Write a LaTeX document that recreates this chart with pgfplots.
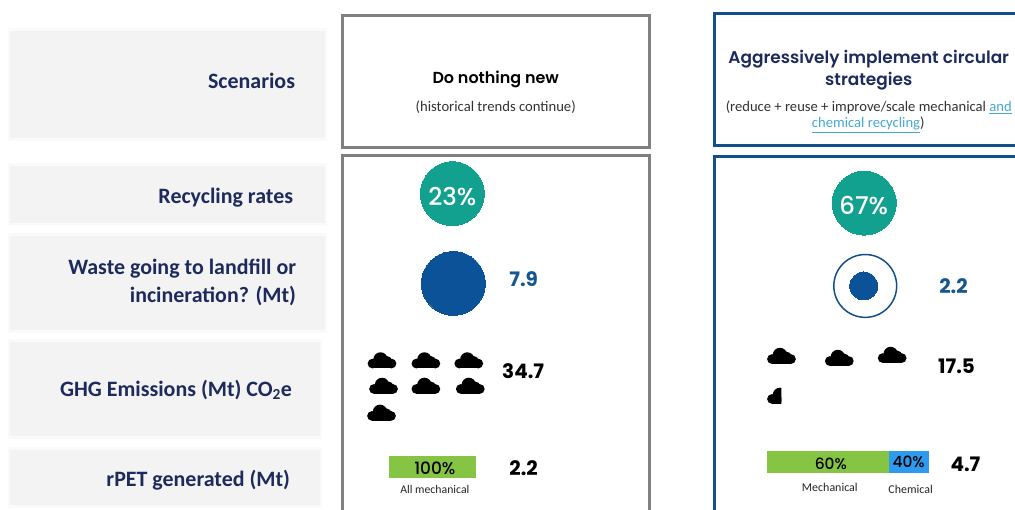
\documentclass[border=0pt]{standalone}
\usepackage{pgfplots}
\pgfplotsset{compat=1.18}
\usepackage{fontspec}
\setmainfont{Carlito}
\newfontfamily\gothic[BoldFont={Poppins SemiBold}]{Poppins Medium}
\newfontfamily\gothicheavy{Poppins}

\definecolor{navy}{HTML}{1D2A5C}
\definecolor{framegray}{HTML}{808080}
\definecolor{frameblue}{HTML}{114F8C}
\definecolor{panel}{HTML}{F3F3F3}
\definecolor{panelsoft}{HTML}{FAFAFA}
\definecolor{teal}{HTML}{12A08F}
\definecolor{wasteblue}{HTML}{0B5299}
\definecolor{valueblue}{HTML}{17578F}
\definecolor{barblue}{HTML}{2E9BF0}
\definecolor{bargreen}{HTML}{86C544}
\definecolor{linkblue}{HTML}{45A8D6}

% Cloud symbol for emissions, about 29 units wide and 16 high
\pgfdeclareplotmark{cloud}{%
  \pgfpathcircle{\pgfpoint{-9.5pt}{-3.3pt}}{4.9pt}\pgfusepathqfill
  \pgfpathcircle{\pgfpoint{9.5pt}{-3.3pt}}{4.9pt}\pgfusepathqfill
  \pgfpathcircle{\pgfpoint{-1.5pt}{0.8pt}}{7.2pt}\pgfusepathqfill
  \pgfpathcircle{\pgfpoint{5pt}{-0.8pt}}{5pt}\pgfusepathqfill
  \pgfpathrectangle{\pgfpoint{-9.5pt}{-8.2pt}}{\pgfpoint{19pt}{7pt}}\pgfusepathqfill
}
% Left part of the cloud, for a fraction of one symbol
\pgfdeclareplotmark{halfcloud}{%
  \pgfscope
  \pgfpathrectangle{\pgfpoint{-15pt}{-9pt}}{\pgfpoint{15pt}{18pt}}\pgfusepathqclip
  \pgfpathcircle{\pgfpoint{-9.5pt}{-3.3pt}}{4.9pt}\pgfusepathqfill
  \pgfpathcircle{\pgfpoint{-1.5pt}{0.8pt}}{7.2pt}\pgfusepathqfill
  \pgfpathrectangle{\pgfpoint{-9.5pt}{-8.2pt}}{\pgfpoint{19pt}{7pt}}\pgfusepathqfill
  \endpgfscope
}

\newcommand{\rowlabel}[3]{\node[anchor=east,inner sep=0pt,text=navy,font=\fontsize{22}{28}\selectfont\bfseries,align=right] at (axis cs:#1,#2) {#3};}
\newcommand{\gothiclabel}[5]{\node[text=#4,font=\gothic\fontsize{#3}{#3}\selectfont#5] at (axis cs:#1,#2)}
\newcommand{\valuelabel}[4]{\node[text=#3,font=\gothicheavy\fontsize{20}{20}\selectfont\bfseries] at (axis cs:#1,#2) {#4};}

\begin{document}
\begin{tikzpicture}
\begin{axis}[
  at={(0,0)},
  scale only axis,
  width=1015pt, height=511pt,
  xmin=-1, xmax=1014, ymin=-0.7, ymax=510.3,
  y dir=reverse,
  hide axis,
  clip=false,
  set layers=standard,
]
% White page behind everything, which also fixes the size of the picture
\addplot[fill=white,draw=none] coordinates {(-1,-0.7)(1014,-0.7)(1014,510.3)(-1,510.3)} --cycle;

% Row label panels, each with a faint outer edge
\addplot[fill=panelsoft,draw=none] coordinates {(7,27)(327,27)(327,141)(7,141)} --cycle;
\addplot[fill=panelsoft,draw=none] coordinates {(7,163)(327,163)(327,226)(7,226)} --cycle;
\addplot[fill=panelsoft,draw=none] coordinates {(7,233)(327,233)(327,333)(7,333)} --cycle;
\addplot[fill=panelsoft,draw=none] coordinates {(7,339)(322,339)(322,439)(7,439)} --cycle;
\addplot[fill=panelsoft,draw=none] coordinates {(7,447)(322,447)(322,509)(7,509)} --cycle;
\addplot[fill=panel,draw=none] coordinates {(9,30)(325,30)(325,138)(9,138)} --cycle;
\addplot[fill=panel,draw=none] coordinates {(9,166)(325,166)(325,223)(9,223)} --cycle;
\addplot[fill=panel,draw=none] coordinates {(9,236)(325,236)(325,330)(9,330)} --cycle;
\addplot[fill=panel,draw=none] coordinates {(9,342)(320,342)(320,436)(9,436)} --cycle;
\addplot[fill=panel,draw=none] coordinates {(9,450)(320,450)(320,506)(9,506)} --cycle;

% Scenario frames; the open ones run past the edge of the page
\addplot[overlay,draw=framegray,line width=3pt] coordinates {(342,15)(650,15)(650,147)(342,147)} --cycle;
\addplot[overlay,draw=framegray,line width=3pt] coordinates {(342,530)(342,155)(650,155)(650,530)};
\addplot[overlay,draw=frameblue,line width=3pt] coordinates {(1030,13)(715,13)(715,145)(1030,145)};
\addplot[overlay,draw=frameblue,line width=3pt] coordinates {(1030,156)(715,156)(715,530)};

% Recycling rate discs
\addplot[only marks,mark=*,mark size=32pt,teal,mark options={fill=teal,draw=teal,line width=0pt}]
  coordinates {(452.5,193.5)(865.5,203)};
% Waste discs and the reference ring around the smaller one
\addplot[only marks,mark=*,mark size=32pt,wasteblue,mark options={fill=wasteblue,draw=wasteblue,line width=0pt}]
  coordinates {(453.5,283.5)};
\addplot[only marks,mark=o,mark size=31.5pt,frameblue,mark options={draw=frameblue,line width=1.5pt,fill=none}]
  coordinates {(866.5,286)};
\addplot[only marks,mark=*,mark size=14pt,wasteblue,mark options={fill=wasteblue,draw=wasteblue,line width=0pt}]
  coordinates {(865,286)};

% Emission clouds
\addplot[only marks,mark=cloud,black,mark options={fill=black}]
  coordinates {(382,360.5)(426,360.5)(469,360.5)(383.5,386)(426,386)(470.5,386)(381.5,413)
               (782.5,356)(840.5,358)(893.5,355)};
\addplot[only marks,mark=halfcloud,black,mark options={fill=black}]
  coordinates {(782.5,396)};

% rPET bars
\addplot[fill=bargreen,draw=none] coordinates {(389,456)(476.5,456)(476.5,479)(389,479)} --cycle;
\addplot[fill=bargreen,draw=none] coordinates {(768,451)(890,451)(890,474)(768,474)} --cycle;
\addplot[fill=barblue,draw=none] coordinates {(890,451)(930,451)(930,474)(890,474)} --cycle;

\begin{pgfonlayer}{axis foreground}
% Row labels
\rowlabel{295}{80.5}{Scenarios}
\rowlabel{293}{197}{Recycling rates}
\rowlabel{296}{282.5}{Waste going to landfill or\\incineration? (Mt)}
\rowlabel{292}{390}{GHG Emissions (Mt) CO\textsubscript{2}e}
\rowlabel{290}{481}{rPET generated (Mt)}

% Scenario headings
\gothiclabel{496}{79}{16}{black}{\bfseries}{Do nothing new};
\node[font=\fontsize{14.7}{16}\selectfont,text=black!80] at (axis cs:496,106.5) {(historical trends continue)};
\gothiclabel{870}{59}{17}{navy}{\bfseries}{Aggressively implement circular};
\gothiclabel{870}{81}{17}{navy}{\bfseries}{strategies};
\node[font=\fontsize{14.65}{16}\selectfont,text=black!80] at (axis cs:870,107) {(reduce + reuse + improve/scale mechanical {\color{linkblue}\underline{and}}};
\node[font=\fontsize{14.65}{16}\selectfont,text=black!80] at (axis cs:869.5,124.5) {{\color{linkblue}\underline{chemical recycling}})};

% Stated values
\gothiclabel{452.5}{196.5}{24.5}{white}{}{23\%};
\gothiclabel{865}{205}{24.5}{white}{}{67\%};
\valuelabel{524}{279}{valueblue}{7.9}
\valuelabel{955}{286}{valueblue}{2.2}
\valuelabel{523.5}{371}{black}{34.7}
\valuelabel{958}{366.5}{black}{17.5}
\valuelabel{524}{468.5}{black}{2.2}
\valuelabel{967}{464.5}{black}{4.7}

% Bar captions
\gothiclabel{435}{468.5}{17}{black}{}{100\%};
\gothiclabel{832}{464.5}{15.5}{black}{}{60\%};
\gothiclabel{910}{462.5}{15.5}{black}{}{40\%};
\node[font=\fontsize{11.8}{14}\selectfont,text=black!85] at (axis cs:435,490.5) {All mechanical};
\node[font=\fontsize{12}{14}\selectfont,text=black!85] at (axis cs:831,487.5) {Mechanical};
\node[font=\fontsize{12}{14}\selectfont,text=black!85] at (axis cs:912,489.5) {Chemical};
\end{pgfonlayer}
\end{axis}
\end{tikzpicture}
\end{document}
